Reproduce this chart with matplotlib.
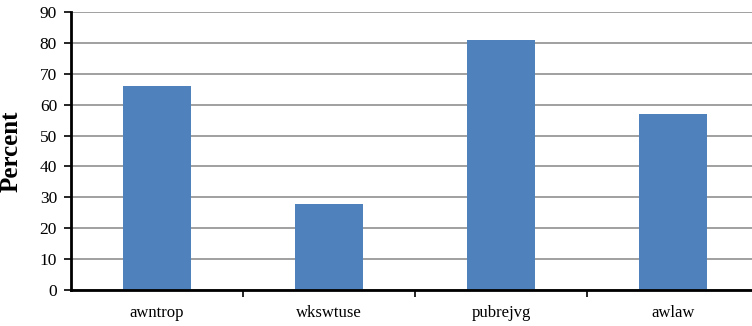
import matplotlib
matplotlib.use("Agg")
import matplotlib.pyplot as plt
from matplotlib.ticker import FixedLocator

categories = ["awntrop", "wkswtuse", "pubrejvg", "awlaw"]
values = [66, 28, 81, 57]
yticks = list(range(0, 91, 10))

plt.rcParams["font.family"] = ["Liberation Serif", "DejaVu Serif"]

W, H = 752, 326
fig = plt.figure(figsize=(W / 100, H / 100), dpi=100)
# axes box in pixels: left 71, right 759 (runs off the edge), top 12, bottom 290
ax = fig.add_axes([71 / W, (H - 290) / H, 688 / W, 278 / H])

x = list(range(len(categories)))
ax.bar(x, values, width=0.40, color="#4f81bd", zorder=3)

ax.set_xlim(-0.5, len(categories) - 0.5)
ax.set_ylim(0, 90)
ax.set_yticks(yticks)
ax.set_xticks(x)
ax.set_xticklabels(categories, fontsize=12)
ax.xaxis.set_minor_locator(FixedLocator([0.5, 1.5, 2.5]))
ax.tick_params(axis="x", which="major", length=0, pad=11)
ax.tick_params(axis="x", which="minor", length=5, width=1.2, direction="out")
ax.tick_params(axis="y", length=5, width=1.2, direction="out", labelsize=12.5, pad=5)

ax.grid(axis="y", color="#a0a0a0", linewidth=1.4, zorder=0)
ax.set_axisbelow(True)

for s in ["top", "right"]:
    ax.spines[s].set_visible(False)
ax.spines["left"].set_linewidth(2)
ax.spines["bottom"].set_linewidth(2)
ax.spines["bottom"].set_zorder(4)

ax.set_ylabel("Percent", fontsize=18, fontweight="bold")
ax.yaxis.set_label_coords(-(71 - 23) / 688, 0.5)

fig.savefig("out.png", dpi=100)
